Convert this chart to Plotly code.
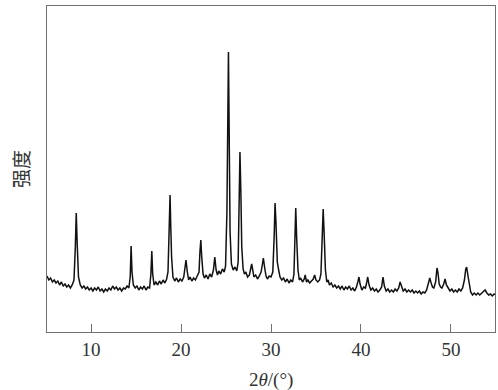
import plotly.graph_objects as go

# XRD pattern (2θ in degrees, intensity in arbitrary units)
two_theta = [
    5.1, 5.3, 5.5, 5.7, 5.9, 6.1, 6.3, 6.5, 6.7, 6.9, 7.1, 7.3, 7.5, 7.7, 7.9,
    8.1, 8.25, 8.35, 8.45, 8.6, 8.8, 9.0, 9.2, 9.4, 9.6, 9.8, 10.0, 10.2, 10.4,
    10.6, 10.8, 11.0, 11.2, 11.4, 11.6, 11.8, 12.0, 12.2, 12.4, 12.6, 12.8, 13.0,
    13.2, 13.4, 13.6, 13.8, 14.0, 14.2, 14.35, 14.45, 14.55, 14.7, 14.9, 15.1,
    15.3, 15.5, 15.7, 15.9, 16.1, 16.3, 16.5, 16.65, 16.75, 16.85, 17.0, 17.2,
    17.4, 17.6, 17.8, 18.0, 18.2, 18.4, 18.55, 18.7, 18.78, 18.86, 18.95, 19.1,
    19.3, 19.5, 19.7, 19.9, 20.1, 20.3, 20.45, 20.55, 20.7, 20.85, 21.0, 21.2,
    21.4, 21.6, 21.8, 22.0, 22.1, 22.2, 22.3, 22.45, 22.6, 22.8, 23.0, 23.2,
    23.4, 23.6, 23.75, 23.9, 24.05, 24.2, 24.4, 24.6, 24.8, 24.95, 25.1, 25.2,
    25.27, 25.35, 25.45, 25.6, 25.8, 26.0, 26.2, 26.35, 26.45, 26.55, 26.65,
    26.75, 26.9, 27.05, 27.2, 27.4, 27.6, 27.75, 27.85, 27.95, 28.1, 28.3, 28.5,
    28.7, 28.9, 29.05, 29.15, 29.3, 29.45, 29.6, 29.8, 30.0, 30.2, 30.35, 30.45,
    30.55, 30.7, 30.85, 31.0, 31.2, 31.4, 31.6, 31.8, 32.0, 32.2, 32.4, 32.55,
    32.68, 32.75, 32.85, 33.0, 33.15, 33.3, 33.5, 33.7, 33.8, 33.95, 34.1, 34.3,
    34.5, 34.7, 34.85, 35.0, 35.2, 35.4, 35.55, 35.7, 35.8, 35.9, 36.05, 36.2,
    36.35, 36.5, 36.7, 36.9, 37.1, 37.3, 37.5, 37.7, 37.9, 38.1, 38.3, 38.5,
    38.7, 38.9, 39.1, 39.3, 39.5, 39.65, 39.78, 39.9, 40.1, 40.3, 40.5, 40.65,
    40.75, 40.9, 41.1, 41.3, 41.5, 41.7, 41.9, 42.1, 42.3, 42.45, 42.6, 42.8,
    43.0, 43.2, 43.4, 43.6, 43.8, 44.0, 44.2, 44.35, 44.5, 44.7, 44.9, 45.1,
    45.3, 45.5, 45.7, 45.9, 46.1, 46.3, 46.5, 46.7, 46.9, 47.1, 47.3, 47.5,
    47.65, 47.8, 47.95, 48.1, 48.3, 48.45, 48.55, 48.7, 48.85, 49.0, 49.2,
    49.35, 49.5, 49.7, 49.9, 50.1, 50.3, 50.5, 50.7, 50.9, 51.1, 51.3, 51.5,
    51.65, 51.75, 51.9, 52.05, 52.2, 52.4, 52.6, 52.8, 53.0, 53.2, 53.4, 53.6,
    53.8, 54.0, 54.2, 54.4, 54.6, 54.8, 55.0,
]
intensity = [
    56, 52, 54, 50, 52, 49, 51, 47, 50, 46, 48, 45, 47, 44, 47,
    52, 85, 119, 90, 55, 47, 44, 46, 43, 45, 42, 44, 41, 44,
    42, 45, 41, 43, 40, 43, 41, 44, 42, 46, 43, 45, 42,
    44, 41, 44, 43, 46, 44, 55, 86, 60, 47, 44, 46,
    42, 45, 43, 46, 42, 45, 44, 58, 81, 58, 47, 50,
    47, 51, 48, 52, 49, 53, 60, 110, 137, 105, 75, 55,
    51, 54, 50, 53, 51, 55, 63, 72, 60, 52, 55, 51,
    54, 52, 56, 60, 80, 92, 75, 58, 54, 57, 53, 58,
    55, 62, 75, 62, 57, 61, 58, 63, 60, 66, 120, 230,
    280, 200, 100, 68, 62, 65, 61, 70, 130, 180, 140,
    85, 63, 58, 60, 55, 57, 62, 68, 63, 55, 57, 53,
    56, 60, 68, 74, 64, 56, 53, 56, 55, 60, 95, 129,
    110, 70, 62, 55, 52, 54, 50, 53, 49, 52, 50, 58,
    100, 124, 95, 62, 52, 54, 50, 53, 57, 50, 52, 49,
    51, 53, 57, 52, 50, 52, 58, 100, 123, 100, 62, 50,
    52, 47, 49, 45, 47, 44, 46, 43, 46, 42, 45, 43,
    46, 42, 44, 41, 45, 50, 55, 48, 42, 45, 44, 50,
    55, 47, 42, 44, 41, 43, 40, 42, 45, 55, 46, 41,
    43, 40, 42, 40, 43, 41, 44, 50, 45, 41, 43, 40,
    42, 40, 42, 39, 41, 39, 41, 38, 40, 39, 42, 48,
    54, 49, 45, 44, 50, 64, 60, 48, 45, 44, 48,
    53, 47, 44, 41, 43, 40, 42, 40, 43, 41, 44, 52,
    63, 65, 56, 46, 40, 37, 39, 37, 39, 37, 39, 41,
    42, 39, 37, 38, 36, 38, 37,
]

x_ticks = [10, 20, 30, 40, 50]
x_range = [5.1, 54.9]
y_range = [0, 326]

frame_color = "#707070"
text_color = "#333333"
serif = "Liberation Serif, Times New Roman, serif"

fig = go.Figure()
fig.add_trace(go.Scatter(
    x=two_theta, y=intensity, mode="lines",
    line=dict(color="#111111", width=1.5),
    showlegend=False, hoverinfo="skip",
))

fig.update_layout(
    width=498, height=390,
    margin=dict(l=47, r=3, t=6, b=58),
    paper_bgcolor="white", plot_bgcolor="white",
    font=dict(family=serif, color=text_color, size=19),
    xaxis=dict(
        range=x_range, tickmode="array", tickvals=x_ticks,
        ticks="inside", ticklen=8, tickwidth=1, tickcolor=frame_color,
        showline=True, linecolor=frame_color, linewidth=1, mirror=True,
        showgrid=False, zeroline=False,
        tickfont=dict(family=serif, size=19, color=text_color),
    ),
    yaxis=dict(
        range=y_range, showticklabels=False, ticks="",
        showline=True, linecolor=frame_color, linewidth=1, mirror=True,
        showgrid=False, zeroline=False,
    ),
    annotations=[
        dict(text="2<i>θ</i>/(°)", xref="paper", yref="paper",
             x=0.5, y=-0.147, xanchor="center", yanchor="middle",
             showarrow=False, font=dict(family=serif, size=19, color=text_color)),
        dict(text="强度", xref="paper", yref="paper",
             x=-0.06, y=0.5, xanchor="center", yanchor="middle", textangle=-90,
             showarrow=False,
             font=dict(family="Noto Sans CJK SC", size=19, color=text_color)),
    ],
)

fig.write_html(
    "out.html",
    config={"displayModeBar": False},
    post_script="document.body.style.margin='0';document.body.style.overflow='hidden';",
)
